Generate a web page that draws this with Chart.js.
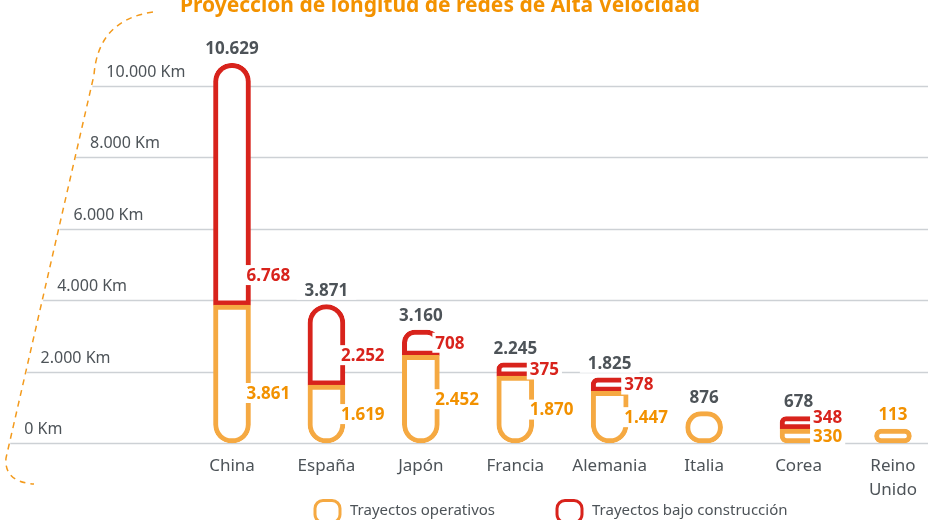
<!DOCTYPE html>
<html><head><meta charset="utf-8">
<script src="https://cdn.jsdelivr.net/npm/chart.js@4.4.1/dist/chart.umd.min.js"></script>
<style>html,body{margin:0;padding:0;background:#fff}#wrap{width:928px;height:520px}</style>
</head><body><div id="wrap"><canvas id="c" width="928" height="520"></canvas></div>
<script>
const categories = ['China', 'España', 'Japón', 'Francia', 'Alemania', 'Italia', 'Corea', ['Reino', 'Unido']];
const operativos = [3861, 1619, 2452, 1870, 1447, 876, 330, 113];
const construccion = [6768, 2252, 708, 375, 378, null, 348, null];
const yTickValues = [0, 2000, 4000, 6000, 8000, 10000];
const yTickLabels = ['0 Km', '2.000 Km', '4.000 Km', '6.000 Km', '8.000 Km', '10.000 Km'];
const seriesNames = ['Trayectos operativos', 'Trayectos bajo construcción'];
const titleText = 'Proyección de longitud de redes de Alta Velocidad';

const FONT = "'Noto Sans', sans-serif";
const ORANGE = '#f5a942', ORANGE_TXT = '#f29100', RED = '#d8231c', GRAY = '#4d5358', GRID = '#cdd1d5';
const fmt = n => String(n).replace(/\B(?=(\d{3})+(?!\d))/g, '.');
function curveX(y) { return 94 - (y - 75) * 0.23; }

const deco = {
  id: 'deco',
  beforeDatasetsDraw(chart) {
    const ctx = chart.ctx, y = chart.scales.y;
    ctx.save();
    ctx.strokeStyle = '#f39a1c'; ctx.lineWidth = 1.5; ctx.setLineDash([6, 5]);
    ctx.beginPath(); ctx.moveTo(153, 12); ctx.quadraticCurveTo(98, 20, 94, 75);
    ctx.lineTo(6, 458); ctx.quadraticCurveTo(4, 482, 34, 484); ctx.stroke();
    ctx.setLineDash([]);
    yTickValues.forEach((v, k) => {
      const py = Math.round(y.getPixelForValue(v)) + 0.5;
      ctx.strokeStyle = GRID; ctx.lineWidth = 1.5;
      ctx.beginPath(); ctx.moveTo(curveX(py) + 1, py); ctx.lineTo(chart.width, py); ctx.stroke();
      ctx.fillStyle = GRAY; ctx.font = '16px ' + FONT; ctx.textAlign = 'left'; ctx.textBaseline = 'alphabetic';
      ctx.fillText(yTickLabels[k], curveX(py) + 15, py - 10);
    });
    ctx.restore();
  }
};

function boxText(ctx, t, x, y, align, color, pad) {
  const w = ctx.measureText(t).width;
  const left = align === 'center' ? x - w / 2 : x;
  ctx.fillStyle = '#fff'; ctx.fillRect(left - pad, y - 10, w + 2 * pad, 20);
  ctx.fillStyle = color; ctx.textAlign = 'left'; ctx.fillText(t, left, y + 1);
}

const valueLabels = {
  id: 'vals',
  afterDatasetsDraw(chart) {
    const ctx = chart.ctx, m0 = chart.getDatasetMeta(0), m1 = chart.getDatasetMeta(1);
    ctx.save(); ctx.font = 'bold 17px ' + FONT; ctx.textBaseline = 'middle';
    categories.forEach((c, i) => {
      const eo = m0.data[i];
      const er = construccion[i] != null ? m1.data[i] : null;
      const top = er ? Math.min(er.y, eo.y) : eo.y;
      const total = operativos[i] + (construccion[i] || 0);
      const tc = (i === categories.length - 1) ? ORANGE_TXT : GRAY;
      boxText(ctx, fmt(total), eo.x, top - 15, 'center', tc, 8);
      if (er) {
        const right = eo.x + eo.width / 2 - 4;
        const om = Math.max((eo.y + eo.base) / 2, eo.base - 50);
        let rm = Math.max((er.y + er.base) / 2, er.base - 30);
        rm = Math.min(rm, om - 19);
        boxText(ctx, fmt(construccion[i]), right, rm, 'left', RED, 3);
        boxText(ctx, fmt(operativos[i]), right, om, 'left', ORANGE_TXT, 3);
      }
    });
    ctx.restore();
  }
};

const legendAndTitle = {
  id: 'legtitle',
  afterDraw(chart) {
    const ctx = chart.ctx;
    ctx.save();
    ctx.font = 'bold 21px ' + FONT; ctx.fillStyle = '#f39200'; ctx.textAlign = 'center'; ctx.textBaseline = 'alphabetic';
    ctx.fillText(titleText, 440, 12);
    const xs = [315, 557];
    chart.data.datasets.forEach((ds, k) => {
      const x = xs[k];
      ctx.strokeStyle = ds.borderColor; ctx.lineWidth = 3; ctx.fillStyle = '#fff';
      ctx.beginPath(); ctx.roundRect(x, 500.5, 25, 22, 8); ctx.fill(); ctx.stroke();
      ctx.fillStyle = GRAY; ctx.font = '15px ' + FONT; ctx.textAlign = 'left';
      ctx.fillText(ds.label, x + 35, 515);
    });
    ctx.restore();
  }
};

const R = 18.5;
new Chart(document.getElementById('c'), {
  type: 'bar',
  data: {
    labels: categories,
    datasets: [
      { label: seriesNames[0], data: operativos, backgroundColor: '#fff', borderColor: ORANGE, borderWidth: 5,
        borderSkipped: false, minBarLength: 14, barThickness: 37, clip: false,
        borderRadius: c => { const t = construccion[c.dataIndex] != null ? 0 : R; return { topLeft: t, topRight: t, bottomLeft: R, bottomRight: R }; } },
      { label: seriesNames[1], data: construccion, backgroundColor: '#fff', borderColor: RED, borderWidth: 5,
        borderSkipped: false, barThickness: 37, clip: false,
        borderRadius: { topLeft: R, topRight: R, bottomLeft: 0, bottomRight: 0 } }
    ]
  },
  options: {
    responsive: false, animation: false, devicePixelRatio: 1,
    layout: { padding: { top: 50, left: 232, right: 27, bottom: 0 } },
    plugins: { legend: { display: false }, tooltip: { enabled: false }, title: { display: false } },
    scales: {
      x: { stacked: true, offset: false, grid: { display: false, drawTicks: false }, border: { display: false },
        ticks: { font: { family: FONT, size: 17, lineHeight: 1.4 }, color: GRAY, padding: 11, maxRotation: 0, autoSkip: false },
        afterFit(s) { s.height = 77; } },
      y: { stacked: true, display: false, min: 0, max: 11000 }
    }
  },
  plugins: [deco, valueLabels, legendAndTitle]
});
</script></body></html>
